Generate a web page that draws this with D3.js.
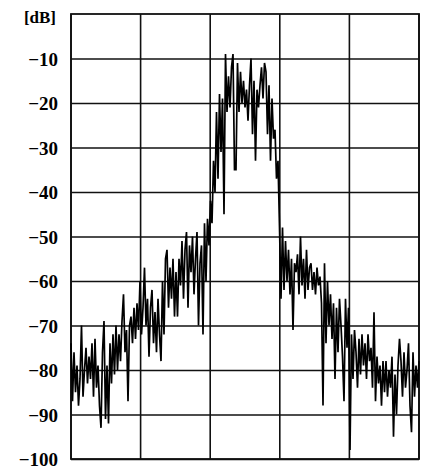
<!DOCTYPE html>
<html>
<head>
<meta charset="utf-8">
<script src="https://cdn.jsdelivr.net/npm/d3@7"></script>
<style>
  body { margin: 0; background: #fff; overflow: hidden; }
  svg { display: block; }
</style>
</head>
<body>
<svg class="chart"></svg>
<script>
// tick labels of the level axis
var yTicks = [-10, -20, -30, -40, -50, -60, -70, -80, -90, -100];
// vertical grid divisions (frequency axis, no labels)
var xDivs = [0, 1, 2, 3, 4, 5];
// spectrum level [dB] left to right
var level = [
  -74, -87, -76, -85, -79, -88, -82, -70, -86, -80,
  -75, -83, -77, -82, -74, -86, -73, -84, -79, -88,
  -93, -76, -69, -91, -79, -92, -74, -83, -72, -81,
  -70, -80, -72, -78, -69, -63, -76, -71, -87, -70,
  -68, -74, -66, -73, -65, -71, -60, -72, -66, -57,
  -70, -64, -77, -66, -62, -74, -67, -76, -64, -72,
  -78, -60, -72, -55, -53, -66, -57, -64, -55, -68,
  -58, -68, -55, -61, -51, -64, -53, -49, -66, -52,
  -58, -50, -63, -55, -49, -70, -56, -52, -72, -47,
  -60, -46, -52, -42, -47, -33, -40, -22, -37, -18,
  -31, -19, -45, -9, -22, -14, -21, -12, -9, -35,
  -35, -11, -22, -13, -20, -15, -21, -17, -24, -16,
  -10, -27, -15, -33, -17, -21, -16, -12, -19, -11,
  -13, -27, -16, -33, -19, -28, -26, -37, -33, -48,
  -64, -48, -62, -51, -60, -53, -63, -55, -71, -56,
  -58, -54, -63, -50, -61, -55, -64, -53, -62, -57,
  -56, -62, -58, -63, -57, -61, -59, -65, -88, -56,
  -74, -60, -70, -63, -73, -65, -82, -66, -76, -64,
  -70, -77, -87, -64, -75, -66, -98, -72, -82, -71,
  -76, -84, -73, -81, -72, -79, -74, -82, -72, -78,
  -75, -84, -67, -87, -77, -83, -79, -88, -78, -85,
  -78, -86, -80, -84, -77, -95, -81, -90, -79, -73,
  -78, -86, -76, -84, -80, -74, -88, -94, -76, -86,
  -79, -84, -78
];

var margin = { top: 14, right: 4, bottom: 10, left: 71 },
    width = 423 - margin.left - margin.right,
    height = 469 - margin.top - margin.bottom;

var svg = d3.select(".chart")
    .attr("width", width + margin.left + margin.right)
    .attr("height", height + margin.top + margin.bottom)
  .append("g")
    .attr("transform", "translate(" + margin.left + "," + margin.top + ")");

var x = d3.scaleLinear()
    .domain([0, level.length - 1])
    .range([0, width]);

var xg = d3.scaleLinear()
    .domain([0, 5])
    .range([0, width]);

var y = d3.scaleLinear()
    .domain([-100, 0])
    .range([height, 0]);

// horizontal grid + labels
var yAxis = svg.append("g")
    .call(d3.axisLeft(y)
      .tickValues(yTicks)
      .tickSize(-width)
      .tickPadding(13));
yAxis.select(".domain").remove();
yAxis.selectAll(".tick line")
    .attr("stroke", "#111")
    .attr("stroke-width", 1.6);
yAxis.selectAll(".tick text")
    .attr("fill", "#000")
    .attr("dy", "0.36em")
    .style("font-family", "'Liberation Serif', serif")
    .style("font-weight", "bold")
    .style("font-size", "19px");

// vertical grid
svg.selectAll(".vgrid")
    .data(xDivs)
  .enter().append("line")
    .attr("class", "vgrid")
    .attr("x1", function(d) { return xg(d); })
    .attr("x2", function(d) { return xg(d); })
    .attr("y1", 0)
    .attr("y2", height)
    .attr("stroke", "#111")
    .attr("stroke-width", 1.6);

// frame
svg.append("rect")
    .attr("width", width)
    .attr("height", height)
    .attr("fill", "none")
    .attr("stroke", "#111")
    .attr("stroke-width", 1.8);

// unit label
svg.append("text")
    .attr("x", -15)
    .attr("y", 9)
    .attr("text-anchor", "end")
    .style("font-family", "'Liberation Serif', serif")
    .style("font-weight", "bold")
    .style("font-size", "17px")
    .text("[dB]");

// spectrum trace
var line = d3.line()
    .x(function(d, i) { return x(i); })
    .y(function(d) { return y(d); });

svg.append("path")
    .datum(level)
    .attr("fill", "none")
    .attr("stroke", "#000")
    .attr("stroke-width", 1.7)
    .attr("stroke-linejoin", "miter")
    .attr("stroke-miterlimit", 3)
    .attr("d", line);
</script>
</body>
</html>
